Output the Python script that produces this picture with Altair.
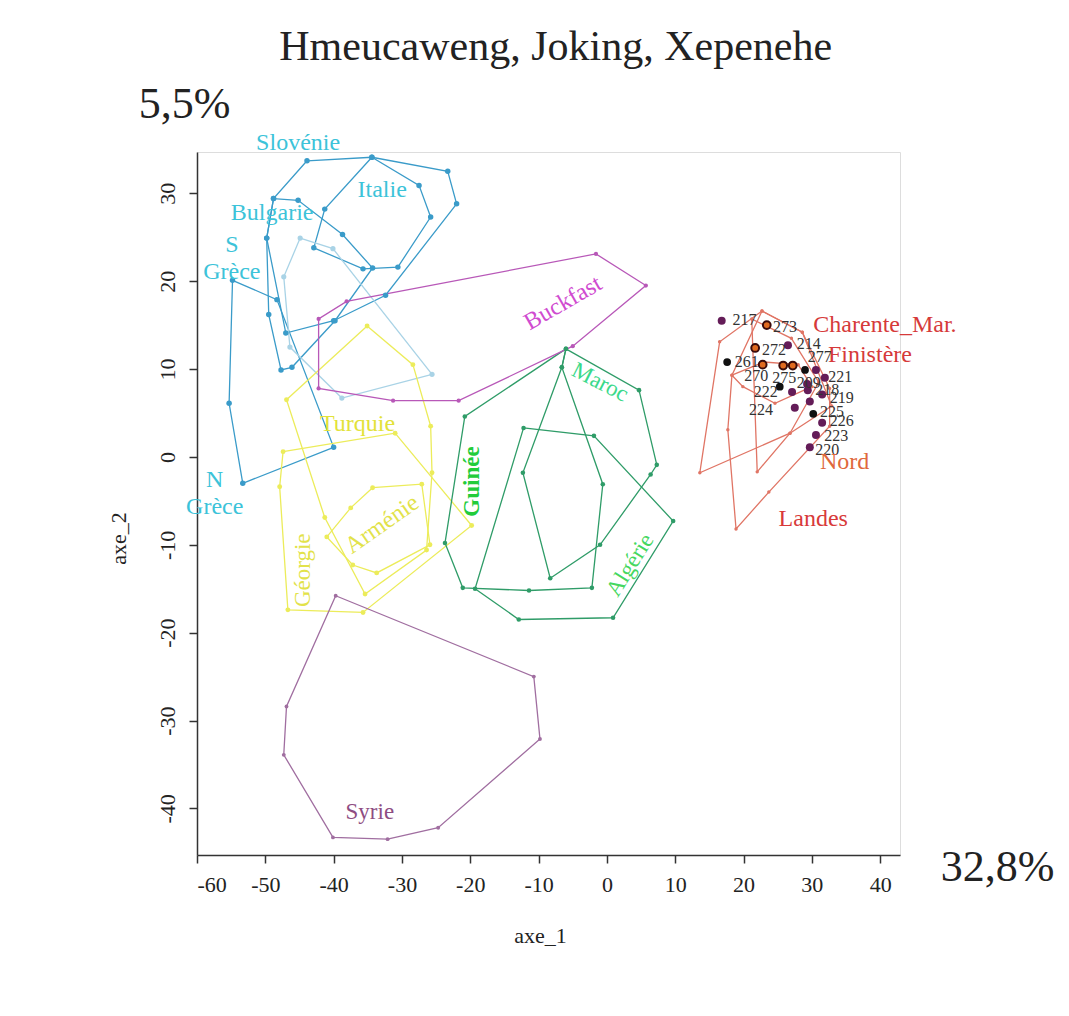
import altair as alt
import pandas as pd

# ---------------- data ----------------
# hull vertices (axe_1, axe_2) for each population polygon
slovenie = [(-43.9, 33.7), (-34.4, 34.1), (-23.3, 32.5), (-22.0, 28.8), (-32.4, 18.4),
            (-40.0, 15.5), (-47.0, 14.1), (-49.8, 24.9), (-48.8, 29.4)]
italie = [(-34.4, 34.1), (-41.3, 28.2), (-42.9, 23.8), (-35.7, 21.4), (-30.6, 21.6),
          (-25.8, 27.3), (-27.5, 30.9)]
bulgarie = [(-49.8, 24.9), (-48.8, 29.4), (-45.2, 29.2), (-38.7, 25.3), (-34.3, 21.5),
            (-39.8, 15.5), (-46.1, 10.2), (-47.7, 9.9), (-49.5, 16.2)]
grece = [(-54.8, 20.1), (-55.3, 6.1), (-53.3, -3.0), (-40.0, 1.1), (-48.3, 17.9)]
grece_pale = [(-44.9, 24.9), (-40.1, 23.7), (-25.6, 9.4), (-38.8, 6.7), (-46.4, 12.5),
              (-47.3, 20.5)]
turquie = [(-35.1, 14.9), (-28.4, 10.5), (-25.8, 3.5), (-25.6, -1.8), (-26.4, -10.6),
           (-35.4, -15.6), (-41.3, -6.9), (-46.9, 6.5)]
georgie = [(-47.4, 0.6), (-31.0, 2.7), (-19.8, -7.8), (-35.7, -17.7), (-46.7, -17.4),
           (-47.9, -3.4)]
armenie = [(-34.3, -3.5), (-27.1, -3.1), (-25.9, -10.0), (-33.7, -13.2), (-37.2, -12.3),
           (-41.0, -9.1), (-37.5, -5.8)]
algerie = [(-12.2, 3.3), (-1.9, 2.4), (9.7, -7.3), (0.9, -18.3), (-12.9, -18.5),
           (-19.3, -15.0)]
guinee = [(-6.0, 12.3), (-20.8, 4.6), (-23.7, -9.8), (-21.1, -14.9), (-11.4, -15.2),
          (-2.2, -14.9), (-0.6, -3.1), (-6.6, 10.2)]
maroc = [(-6.0, 12.3), (4.7, 7.6), (7.3, -0.9), (6.4, -2.0), (-1.0, -10.0), (-8.3, -13.8),
         (-12.3, -1.8), (-6.6, 10.2)]
buckfast = [(-1.6, 23.1), (5.7, 19.5), (-5.0, 12.6), (-21.7, 6.4), (-31.3, 6.4),
            (-42.2, 7.8), (-42.2, 15.7), (-38.1, 17.7)]
syrie = [(-39.7, -15.8), (-10.7, -25.0), (-9.8, -32.1), (-24.7, -42.2), (-32.1, -43.5),
         (-40.1, -43.3), (-47.3, -33.9), (-46.9, -28.4)]
landes = [(22.7, 16.6), (28.6, 14.2), (32.6, 7.8), (32.6, 3.5), (23.7, -4.0), (18.9, -8.2),
          (17.7, 3.1), (18.3, 9.3)]
nord = [(22.7, 16.6), (16.5, 13.1), (13.6, -1.8), (26.8, 2.7), (32.9, 5.8), (28.6, 14.2)]
charente = [(21.2, 15.7), (22.0, -1.7), (26.8, 2.7), (31.0, 8.5), (27.0, 13.5)]
finistere = [(18.3, 9.3), (19.9, 8.0), (24.6, 6.1), (30.0, 8.0), (28.0, 10.5), (23.0, 10.8)]

polygons = [
    ("blue", slovenie), ("blue", italie), ("blue", bulgarie), ("blue", grece),
    ("pale", grece_pale),
    ("yellow", turquie), ("yellow", georgie), ("yellow", armenie),
    ("green", algerie), ("green", guinee), ("green", maroc),
    ("magenta", buckfast), ("syrie", syrie),
    ("red", landes), ("red", nord), ("red", charente), ("red", finistere),
]

# individual French colonies
purple_pts = [(16.8, 15.5), (26.5, 12.7), (30.6, 9.9), (31.9, 9.0), (29.3, 8.3), (29.4, 7.6),
              (27.1, 7.4), (31.5, 7.1), (29.7, 6.3), (27.5, 5.6), (31.5, 3.9), (30.6, 2.5),
              (29.7, 1.1)]
black_pts = [(17.6, 10.8), (25.3, 8.0), (30.2, 4.9), (29.0, 9.9)]
orange_pts = [(23.4, 15.0), (21.7, 12.4), (22.8, 10.5), (25.8, 10.4), (27.2, 10.4)]

id_labels = ["217", "273", "272", "214", "261", "277", "270", "275", "222", "209", "221",
             "218", "219", "224", "225", "226", "223", "220"]
id_x = [18.4, 24.3, 22.7, 27.8, 18.7, 29.4, 20.1, 24.2, 21.5, 27.8, 32.4, 30.5, 32.6, 20.8,
        31.2, 32.6, 31.8, 30.5]
id_y = [15.6, 14.8, 12.2, 12.9, 10.8, 11.4, 9.2, 9.0, 7.4, 8.4, 9.1, 7.6, 6.7, 5.3, 5.1,
        4.1, 2.4, 0.8]

# population names: (text, x, y, angle, size, weight, colour)
pop_labels = [
    ("Slovénie", -45.2, 35.7, 0, 24, "normal", "#3cc3d9"),
    ("Italie", -32.9, 30.4, 0, 24, "normal", "#3cc3d9"),
    ("Bulgarie", -49.0, 27.8, 0, 24, "normal", "#3cc3d9"),
    ("S", -54.9, 24.1, 0, 24, "normal", "#3cc3d9"),
    ("Grèce", -54.9, 21.0, 0, 24, "normal", "#3cc3d9"),
    ("N", -57.4, -2.6, 0, 24, "normal", "#3cc3d9"),
    ("Grèce", -57.4, -5.7, 0, 24, "normal", "#3cc3d9"),
    ("Turquie", -36.5, 3.8, 0, 24, "normal", "#e2e23a"),
    ("Arménie", -32.9, -7.7, 325, 24, "normal", "#e2e24a"),
    ("Géorgie", -44.5, -12.9, 270, 23, "normal", "#e2e24a"),
    ("Guinée", -19.8, -2.8, 270, 23, "bold", "#22cc3a"),
    ("Maroc", -1.0, 8.5, 27, 23, "normal", "#3bd98a"),
    ("Algérie", 3.4, -12.3, 302, 23, "normal", "#45d760"),
    ("Buckfast", -6.4, 17.5, 330, 24, "normal", "#d04bd0"),
    ("Syrie", -34.7, -40.4, 0, 23, "normal", "#8e4d82"),
    ("Charente_Mar.", 40.7, 15.0, 0, 24, "normal", "#d63a3a"),
    ("Finistère", 38.5, 11.6, 0, 24, "normal", "#d63a3a"),
    ("Nord", 34.8, -0.6, 0, 24, "normal", "#e0683c"),
    ("Landes", 30.2, -7.1, 0, 24, "normal", "#d83a3a"),
]

# title and inertia percentages: (text, x, y, size)
big_texts = [("Hmeucaweng, Joking, Xepenehe", -7.5, 46.6, 42),
             ("5,5%", -61.8, 40.0, 44), ("32,8%", 57.2, -46.8, 44)]

x_ticks = [-60, -50, -40, -30, -20, -10, 0, 10, 20, 30, 40]
y_ticks = [-40, -30, -20, -10, 0, 10, 20, 30]

# ---------------- styles ----------------
group_names = ["blue", "pale", "yellow", "green", "magenta", "syrie", "red"]
group_colors = ["#3a9bc9", "#a9d3e6", "#ecec5a", "#2f9c68", "#b858b8", "#a06ea0", "#e07565"]
vertex_sizes = [30, 12, 16, 16, 18, 16, 22]
FONT = "Liberation Serif"

# ---------------- tables ----------------
rows, vrows = [], []
for pid, (grp, pts) in enumerate(polygons):
    for i, (x, y) in enumerate(pts + [pts[0]]):
        rows.append(dict(pid=pid, grp=grp, o=i, x=x, y=y))
    for x, y in pts:
        vrows.append(dict(grp=grp, x=x, y=y))
poly_df = pd.DataFrame(rows)
vert_df = pd.DataFrame(vrows)

xs = alt.Scale(domain=[-60, 42.9], nice=False, zero=False)
ys = alt.Scale(domain=[-45.3, 34.7], nice=False, zero=False)
cs = alt.Scale(domain=group_names, range=group_colors)
ss = alt.Scale(domain=group_names, range=vertex_sizes)

common_axis = dict(grid=False, labelFontSize=22, labelFont=FONT, titleFont=FONT,
                   titleFontSize=22, titleFontWeight="normal", titleColor="#222",
                   labelColor="#222", domainColor="#333", tickColor="#333", domainWidth=1.5,
                   tickWidth=1.5, tickSize=8, labelExpr="'' + datum.value")
xaxis = alt.Axis(values=x_ticks, title="axe_1", labelPadding=11, titleX=343, titleY=80,
                 titleBaseline="middle", titleAlign="center", **common_axis)
yaxis = alt.Axis(values=y_ticks, title="axe_2", labelPadding=10, labelAngle=270,
                 labelAlign="center", labelBaseline="bottom", titleX=-79, titleY=386,
                 titleAngle=270, titleBaseline="middle", titleAlign="center", **common_axis)

X = alt.X("x:Q", scale=xs, axis=xaxis)
Y = alt.Y("y:Q", scale=ys, axis=yaxis)

lines = alt.Chart(poly_df).mark_line(strokeWidth=1.3).encode(
    x=X, y=Y, color=alt.Color("grp:N", scale=cs, legend=None),
    detail="pid:N", order="o:Q")

verts = alt.Chart(vert_df).mark_circle(opacity=1).encode(
    x=X, y=Y, color=alt.Color("grp:N", scale=cs, legend=None),
    size=alt.Size("grp:N", scale=ss, legend=None))

def pts_df(pts):
    return pd.DataFrame(pts, columns=["x", "y"])

orange = alt.Chart(pts_df(orange_pts)).mark_circle(
    size=60, opacity=1, color="#e06a20", stroke="#3a0a0a", strokeWidth=2).encode(x=X, y=Y)
purple = alt.Chart(pts_df(purple_pts)).mark_circle(
    size=64, opacity=1, color="#641c58").encode(x=X, y=Y)
black = alt.Chart(pts_df(black_pts)).mark_circle(
    size=60, opacity=1, color="#111111").encode(x=X, y=Y)

ids = alt.Chart(pd.DataFrame(dict(x=id_x, y=id_y, t=id_labels))).mark_text(
    font=FONT, fontSize=16, color="#333", align="left", baseline="middle").encode(
    x=X, y=Y, text="t:N")

layers = [lines, verts, orange, purple, black, ids]
for t, x, y, ang, fs, fw, c in pop_labels:
    layers.append(alt.Chart(pd.DataFrame(dict(x=[x], y=[y], t=[t]))).mark_text(
        font=FONT, fontSize=fs, fontWeight=fw, color=c, angle=ang,
        align="center", baseline="middle").encode(x=X, y=Y, text="t:N"))
for t, x, y, fs in big_texts:
    layers.append(alt.Chart(pd.DataFrame(dict(x=[x], y=[y], t=[t]))).mark_text(
        font=FONT, fontSize=fs, color="#222", align="center",
        baseline="middle").encode(x=X, y=Y, text="t:N"))

chart = alt.layer(*layers).properties(
    width=703, height=703,
    autosize=alt.AutoSizeParams(type="none"),
    padding={"left": 189, "top": 144, "right": 161, "bottom": 153},
).configure_view(stroke=None).configure(background="white")

chart.save("out.html", embed_options={"renderer": "svg", "actions": False})
